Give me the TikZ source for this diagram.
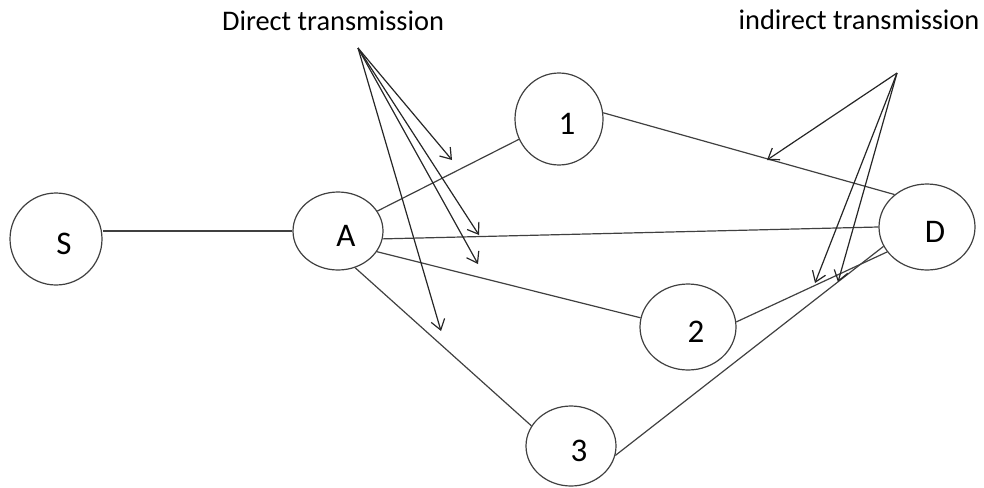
\documentclass[tikz,border=0pt]{standalone}
\usepackage{fontspec}
\setmainfont{Carlito}
\usetikzlibrary{shapes.geometric,arrows.meta}

\begin{document}
\begin{tikzpicture}[
    x=0.5pt,y=-0.5pt,
    link/.style={draw=black!75,line width=0.6pt},
    pointer/.style={draw=black!85,line width=0.6pt,
                    -{Straight Barb[length=5pt,width=7pt]}},
    station/.style={ellipse,draw=black!75,line width=0.6pt,inner sep=0pt,
                    label={[xshift=4pt,yshift=-2.5pt,
                            font=\fontsize{16.5}{18}\selectfont]center:#1}},
    caption/.style={anchor=base,font=\fontsize{14.2}{16}\selectfont}
]
  \useasboundingbox (0,0) rectangle (984,487);

  % Source, relay A, helper relays 1-3 and the destination.
  \node[station=S,minimum width=46pt,minimum height=46pt] (S)  at (56,239)  {};
  \node[station=A,minimum width=45pt,minimum height=39pt] (A)  at (338,231) {};
  \node[station=1,minimum width=44pt,minimum height=46pt] (n1) at (559,119) {};
  \node[station=2,minimum width=48pt,minimum height=43pt] (n2) at (688,327) {};
  \node[station=3,minimum width=45pt,minimum height=40pt] (n3) at (571,446) {};
  \node[station=D,minimum width=48pt,minimum height=43pt] (D)  at (927,227) {};

  % Links between the stations.
  \draw[link] (A.west) -- (A.west -| S.east);
  \draw[link] (A) -- (n1);
  \draw[link] (A.-10) -- (D.180);
  \draw[link] (A.-28) -- (n2.169);
  \draw[link] (A.-65) -- (n3.153);
  \draw[link] (n1.8) -- (D.135);
  \draw[link] (n2.6) -- (D.212);
  \draw[link] (n3.-12) -- (D.204);

  % Captions and their pointers.
  \node[caption] (direct)   at (333,30) {Direct transmission};
  \node[caption] (indirect) at (859,29) {indirect transmission};

  \coordinate (dsrc) at (358,48);
  \coordinate (isrc) at (897,73);
  \coordinate (d1) at (452,160);
  \coordinate (d2) at (479,235);
  \coordinate (d3) at (478,264);
  \coordinate (d4) at (441,331);
  \coordinate (i1) at (767,160);
  \coordinate (i2) at (815,283);
  \coordinate (i3) at (838,282);

  \draw[pointer] (dsrc) -- (d1);
  \draw[pointer] (dsrc) -- (d2);
  \draw[pointer] (dsrc) -- (d3);
  \draw[pointer] (dsrc) -- (d4);
  \draw[pointer] (isrc) -- (i1);
  \draw[pointer] (isrc) -- (i2);
  \draw[pointer] (isrc) -- (i3);
\end{tikzpicture}
\end{document}
